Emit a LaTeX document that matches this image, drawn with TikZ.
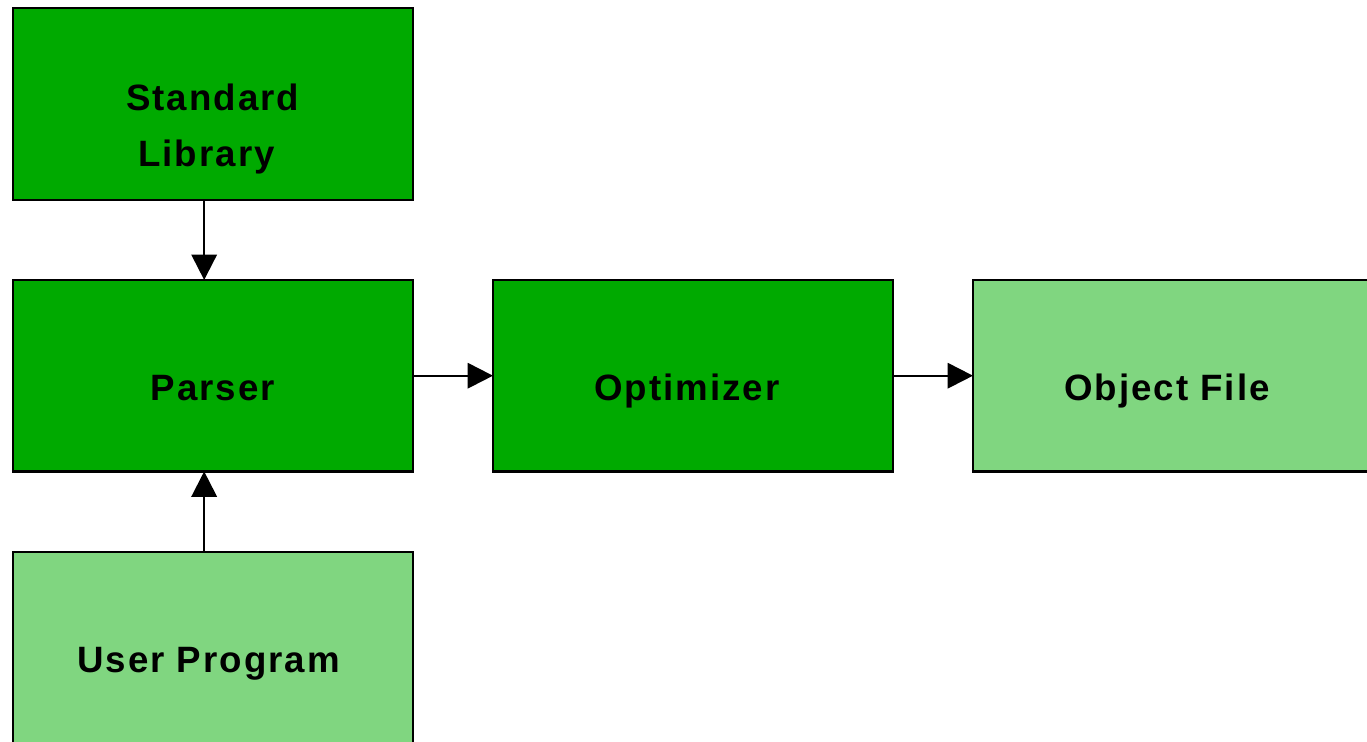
\documentclass[tikz,border=0pt]{standalone}
\usepackage{fontspec}
\setmainfont{Liberation Sans}
\newfontfamily\boxfont{Liberation Sans}[LetterSpace=5.5]
\usetikzlibrary{arrows.meta}
\definecolor{stagegreen}{HTML}{00AA00}
\definecolor{iogreen}{HTML}{80D680}
\begin{document}
\begin{tikzpicture}[x=0.75pt,y=-0.75pt,
  box/.style={draw=black, line width=1.6pt, rectangle, minimum width=300pt,
    minimum height=143.6pt, inner sep=0pt, outer sep=0pt},
  stage/.style={box, fill=stagegreen},
  io/.style={box, fill=iogreen},
  lbl/.style={font=\boxfont\bfseries\fontsize{27.5}{40.5}\selectfont, anchor=base, inner sep=0pt},
  arr/.style={line width=1.6pt, -{Triangle[length=19pt,width=19pt]}}]
\useasboundingbox (0,0) rectangle (1367,742);
\begin{scope}
\clip (0,0) rectangle (1367,742);
\node[stage] (stdlib) at (212.7,104) {};
\node[stage] (parser) at (212.7,375.7) {};
\node[stage] (optim) at (693,375.7) {};
\node[io] (objfile) at (1173,375.7) {};
\node[io] (userprog) at (212.7,647.7) {};
\end{scope}
\node[lbl] (stdlibA) at (212.7,111) {Standard};
\node[lbl] (stdlibB) at (206.5,166) {Library};
\node[lbl] (parserT) at (212.7,400) {Parser};
\node[lbl] (optimT) at (687,400) {Optimizer};
\node[lbl] (objfileT) at (1167,400) {Object File};
\node[lbl] (userprogT) at (208.5,672) {User Program};
\draw[arr] ([xshift=-6.4pt]stdlib.south) -- ([xshift=-6.4pt]parser.north);
\draw[arr] ([xshift=-6.4pt]userprog.north) -- ([xshift=-6.4pt]parser.south);
\draw[arr] (parser.east) -- (optim.west);
\draw[arr] (optim.east) -- (objfile.west);
\end{tikzpicture}
\end{document}
